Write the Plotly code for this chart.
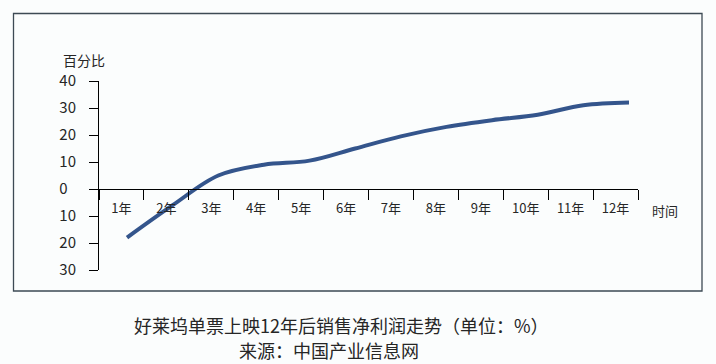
import plotly.graph_objects as go

# ---- data ----
years = ["1年", "2年", "3年", "4年", "5年", "6年", "7年", "8年", "9年", "10年", "11年", "12年"]
year_num = [1, 2, 3, 4, 5, 6, 7, 8, 9, 10, 11, 12]
profit_pct = [-18, -6, 5, 9, 10.5, 15, 19.5, 23, 25.5, 27.5, 31, 32]
y_tick_vals = [40, 30, 20, 10, 0, -10, -20, -30]
y_tick_text = ["40", "30", "20", "10", "0\u2007", "10", "20", "30"]
y_title = "百分比"
x_title = "时间"
title_line1 = "好莱坞单票上映12年后销售净利润走势（单位：%）"
title_line2 = "来源：中国产业信息网"

W, H = 716, 364
ML, MR, MT, MB = 99, 78, 81, 94
PW, PH = W - ML - MR, H - MT - MB
y_range = [-30, 40]
x_num_range = [0.386, 12.197]   # the line runs a little right of the category centres

def px_x(px):
    return (px - ML) / PW

def px_y(py):
    return (H - MB - py) / PH

FONT = "Noto Sans CJK SC, Noto Sans, sans-serif"
TXT = "#262626"

fig = go.Figure()
fig.add_trace(go.Scatter(
    x=year_num, y=profit_pct, mode="lines",
    line=dict(color="#34558c", width=4, shape="spline", smoothing=1.0),
    hoverinfo="skip", showlegend=False,
))
# invisible trace carrying the category axis
fig.add_trace(go.Scatter(
    x=years, y=profit_pct, mode="markers", xaxis="x2",
    marker=dict(opacity=0), hoverinfo="skip", showlegend=False,
))

zero_pos = (0 - y_range[0]) / (y_range[1] - y_range[0])

fig.update_layout(
    width=W, height=H,
    margin=dict(l=ML, r=MR, t=MT, b=MB),
    paper_bgcolor="#fbfdfd", plot_bgcolor="rgba(0,0,0,0)",
    font=dict(family=FONT, color=TXT),
    xaxis=dict(
        range=x_num_range, visible=False, showgrid=False, zeroline=False,
    ),
    xaxis2=dict(
        type="category", range=[-0.5, 11.5], overlaying="x",
        anchor="free", position=zero_pos,
        showline=True, linecolor="black", linewidth=1,
        ticks="outside", tickson="boundaries", ticklen=10, tickcolor="black", tickwidth=1,
        ticklabelstandoff=7,
        showgrid=False, zeroline=False,
        tickfont=dict(size=13, color=TXT, family=FONT),
    ),
    yaxis=dict(
        range=y_range,
        tickmode="array", tickvals=y_tick_vals, ticktext=y_tick_text,
        showline=True, linecolor="black", linewidth=1,
        ticks="outside", ticklen=9, tickcolor="black", tickwidth=1,
        ticklabelstandoff=10,
        showgrid=False, zeroline=False,
        tickfont=dict(size=15, color=TXT, family=FONT),
    ),
    shapes=[dict(
        type="rect", xref="paper", yref="paper",
        x0=px_x(13.5), x1=px_x(702), y0=px_y(291), y1=px_y(13.5),
        line=dict(color="#3d4a54", width=1.3), fillcolor="rgba(0,0,0,0)",
        layer="below",
    )],
    annotations=[
        dict(text=y_title, xref="paper", yref="paper", x=px_x(61), y=px_y(60),
             xanchor="left", yanchor="middle", showarrow=False,
             font=dict(size=14, color=TXT, family=FONT)),
        dict(text=x_title, xref="paper", yref="paper", x=px_x(650), y=px_y(210),
             xanchor="left", yanchor="middle", showarrow=False,
             font=dict(size=13, color=TXT, family=FONT)),
        dict(text=title_line1, xref="paper", yref="paper", x=px_x(341), y=px_y(325),
             xanchor="center", yanchor="middle", showarrow=False,
             font=dict(size=18, color=TXT, family=FONT)),
        dict(text=title_line2, xref="paper", yref="paper", x=px_x(329), y=px_y(350),
             xanchor="center", yanchor="middle", showarrow=False,
             font=dict(size=18, color=TXT, family=FONT)),
    ],
)

fig.write_html("out.html")
